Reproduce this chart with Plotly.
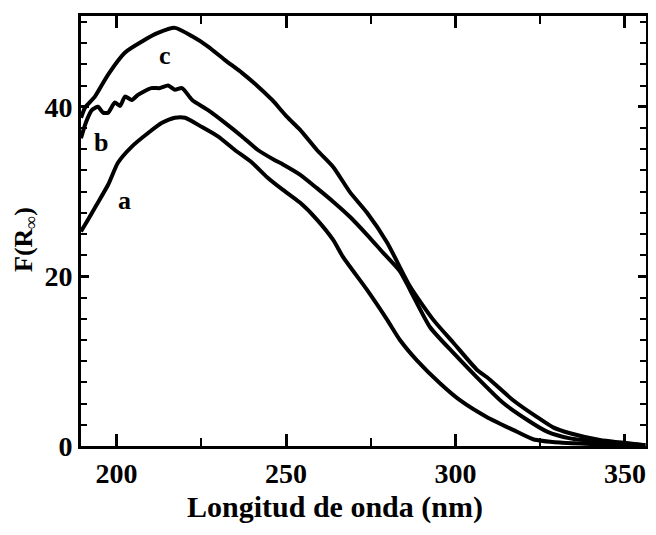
import plotly.graph_objects as go

# Wavelength (nm) and F(R_inf) values
wl_a = [189.5, 191.6, 193.6, 197.5, 200.4, 204.5, 209.3, 213.4, 217.2, 220.2, 225.2, 229.9,
        234.9, 240.0, 244.4, 249.1, 254.1, 259.1, 263.9, 266.8, 273.9, 279.8, 283.6, 288.6,
        295.4, 301.3, 309.3, 317.0, 322.9, 330.8, 342.6, 356.0]
f_a = [25.3, 26.7, 28.1, 30.8, 33.4, 35.3, 36.9, 38.1, 38.7, 38.7, 37.6, 36.5,
       34.9, 33.4, 31.7, 30.2, 28.7, 26.7, 24.3, 22.3, 18.4, 14.9, 12.5, 10.1,
       7.4, 5.4, 3.4, 1.9, 0.8, 0.4, 0.2, 0.1]

wl_b = [189.5, 191.0, 192.7, 194.5, 196.0, 197.5, 199.5, 201.0, 202.5, 204.5, 206.3, 210.2,
        212.8, 215.2, 217.2, 219.3, 222.3, 227.0, 232.0, 237.0, 241.7, 246.7, 249.1, 254.1,
        259.1, 263.9, 268.9, 273.9, 278.6, 283.6, 286.6, 292.5, 299.3, 306.3, 314.0, 321.1,
        327.0, 333.8, 342.6, 356.0]
f_b = [36.3, 38.2, 39.6, 40.0, 39.3, 39.3, 40.5, 40.1, 41.2, 40.8, 41.4, 42.2,
       42.2, 42.5, 42.0, 42.2, 40.8, 39.6, 38.1, 36.5, 34.9, 33.7, 33.2, 32.0,
       30.4, 28.8, 27.0, 24.9, 22.8, 20.6, 18.4, 14.0, 11.0, 8.1, 5.1, 3.1,
       1.7, 0.9, 0.5, 0.1]

wl_c = [189.5, 190.7, 193.6, 197.5, 202.5, 207.5, 212.2, 217.2, 222.3, 227.0, 232.0, 237.0,
        241.7, 245.9, 250.3, 254.1, 259.1, 263.9, 268.9, 273.9, 279.8, 286.6, 293.4, 299.3,
        306.3, 309.3, 317.0, 324.1, 328.8, 333.8, 342.6, 356.0]
f_c = [38.7, 39.9, 41.2, 43.8, 46.4, 47.7, 48.7, 49.3, 48.3, 47.1, 45.5, 44.0,
       42.4, 40.8, 38.8, 37.3, 34.9, 32.9, 29.9, 27.5, 24.0, 18.8, 14.9, 12.2,
       9.0, 8.1, 5.4, 3.4, 2.2, 1.5, 0.7, 0.1]

series = [("a", wl_a, f_a), ("b", wl_b, f_b), ("c", wl_c, f_c)]
labels = [("c", 214.3, 46.1), ("b", 195.4, 35.8), ("a", 202.2, 29.0)]

x_ticks = [200, 250, 300, 350]
y_ticks = [0, 20, 40]
x_title = "Longitud de onda (nm)"
y_title = "F(R<sub>∞</sub>)"

# page body adds an 8px margin all round; size the figure so nothing overflows the window
OFF = 8
W, H = 656 - 2 * OFF, 535 - 2 * OFF
L, R, T, B = 81 - OFF, 2, 16 - OFF, (H + OFF) - 446
pw, ph = W - L - R, H - T - B


def px(xs):
    return (xs - OFF - L) / pw


def py(ys):
    return (H - B - (ys - OFF)) / ph


fig = go.Figure()
for name, xs, ys in series:
    fig.add_trace(go.Scatter(x=xs, y=ys, mode="lines", name=name,
                             line=dict(color="black", width=4, shape="spline", smoothing=0.6),
                             showlegend=False))

for txt, lx, ly in labels:
    fig.add_annotation(x=lx, y=ly, text=f"<b>{txt}</b>", showarrow=False,
                       font=dict(family="Liberation Serif", size=26, color="black"))

fig.add_annotation(x=px(335), y=py(507), xref="paper", yref="paper", text=f"<b>{x_title}</b>",
                   xanchor="center", yanchor="middle", showarrow=False,
                   font=dict(family="Liberation Serif", size=30, color="black"))
fig.add_annotation(x=px(25), y=py(240), xref="paper", yref="paper", text=f"<b>{y_title}</b>",
                   xanchor="center", yanchor="middle", showarrow=False, textangle=-90,
                   font=dict(family="Liberation Serif", size=26, color="black"))

tick_font = dict(family="Liberation Serif", size=28, color="black")

fig.update_layout(
    width=W, height=H,
    margin=dict(l=L, r=R, t=T, b=B),
    paper_bgcolor="white", plot_bgcolor="white",
    xaxis=dict(range=[189.5, 356.2], tickvals=x_ticks, ticktext=[f"<b>{v}</b>" for v in x_ticks],
               tickfont=tick_font, automargin=False,
               ticks="inside", ticklen=12, tickwidth=3, tickcolor="black",
               minor=dict(dtick=25, tick0=200, ticks="inside", ticklen=8, tickwidth=2, tickcolor="black"),
               showline=True, linewidth=3, linecolor="black", mirror="ticks",
               showgrid=False, zeroline=False),
    yaxis=dict(range=[0, 50.7], tickvals=y_ticks, ticktext=[f"<b>{v}</b>" for v in y_ticks],
               tickfont=tick_font, automargin=False,
               ticks="inside", ticklen=8, tickwidth=3, tickcolor="black",
               minor=dict(dtick=2.5, tick0=0, ticks="inside", ticklen=6, tickwidth=2, tickcolor="black"),
               showline=True, linewidth=3, linecolor="black", mirror="ticks",
               showgrid=False, zeroline=False),
)

fig.write_html("out.html")
